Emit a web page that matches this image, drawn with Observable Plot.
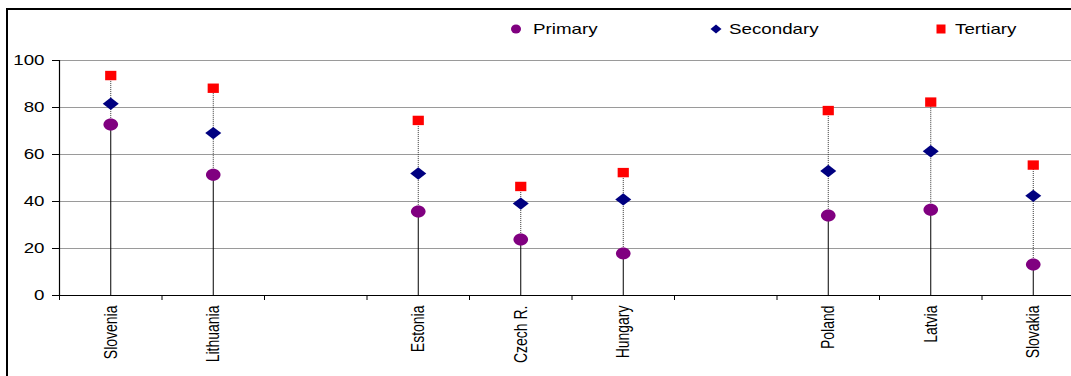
<!DOCTYPE html>
<html>
<head>
<meta charset="utf-8">
<script src="https://cdn.jsdelivr.net/npm/d3@7"></script>
<script src="https://cdn.jsdelivr.net/npm/@observablehq/plot@0.6"></script>
<style>
  html, body { margin: 0; padding: 0; background: #fff; }
  #wrap { position: relative; width: 1071px; height: 376px; overflow: hidden; font-family: "Liberation Sans", Arial, sans-serif; }
  #frame { position: absolute; left: 6px; top: 8px; width: 1200px; height: 500px; border-left: 2px solid #000; border-top: 2px solid #000; pointer-events: none; }
  #chart { position: absolute; left: 0; top: 0; }
  .key { position: absolute; top: 20px; height: 18px; font-size: 15px; color: #000; }
  .key svg { position: absolute; top: 0; }
  .key span { position: absolute; top: 0; white-space: nowrap; transform: scaleX(1.25); transform-origin: left center; line-height: 18px; }
</style>
</head>
<body>
<div id="wrap">
  <div id="chart"></div>
  <div id="frame"></div>
</div>
<script>
// Country slots along the x axis; empty strings leave a gap between groups
const countries = ["Slovenia", "Lithuania", "", "Estonia", "Czech R.", "Hungary", "", "Poland", "Latvia", "Slovakia"];

// Share by education level (%)
const primary   = [72.8, 51.4, null, 35.7, 23.8, 17.9, null, 34.0, 36.5, 13.2];
const secondary = [81.6, 69.1, null, 51.9, 39.1, 40.9, null, 53.0, 61.4, 42.4];
const tertiary  = [93.6, 88.2, null, 74.5, 46.4, 52.3, null, 78.7, 82.3, 55.5];

const seriesNames = ["Primary", "Secondary", "Tertiary"];
const seriesColors = ["#800080", "#000080", "#ff0000"];

const yTicks = [0, 20, 40, 60, 80, 100];

const rows = countries
  .map((name, i) => ({name, i, primary: primary[i], secondary: secondary[i], tertiary: tertiary[i]}))
  .filter(d => d.name !== "");

const slotCenter = d => d.i + 0.5;

// Marker shapes drawn through d3 path contexts
const k = 0.5523;
const ellipseSymbol = (rx, ry) => ({
  draw(ctx) {
    ctx.moveTo(rx, 0);
    ctx.bezierCurveTo(rx, ry * k, rx * k, ry, 0, ry);
    ctx.bezierCurveTo(-rx * k, ry, -rx, ry * k, -rx, 0);
    ctx.bezierCurveTo(-rx, -ry * k, -rx * k, -ry, 0, -ry);
    ctx.bezierCurveTo(rx * k, -ry, rx, -ry * k, rx, 0);
    ctx.closePath();
  }
});
const diamondSymbol = (hw, hh) => ({
  draw(ctx) {
    ctx.moveTo(0, -hh); ctx.lineTo(hw, 0); ctx.lineTo(0, hh); ctx.lineTo(-hw, 0); ctx.closePath();
  }
});
const rectSymbol = (hw, hh) => ({
  draw(ctx) {
    ctx.moveTo(-hw, -hh); ctx.lineTo(hw, -hh); ctx.lineTo(hw, hh); ctx.lineTo(-hw, hh); ctx.closePath();
  }
});

const chart = Plot.plot({
  width: 1071,
  height: 376,
  marginLeft: 59,
  marginRight: 0,
  marginTop: 60,
  marginBottom: 81,
  style: {fontFamily: "'Liberation Sans', Arial, sans-serif", fontSize: "14px", color: "#000", background: "transparent"},
  x: {type: "linear", domain: [0, countries.length], range: [59, 59 + countries.length * 102.5],
      ticks: d3.range(countries.length + 1), tickSize: 5, tickFormat: () => "", label: null},
  y: {domain: [0, 100], ticks: yTicks, tickSize: 7, tickFormat: () => "", label: null},
  marks: [
    Plot.ruleY(yTicks.filter(v => v > 0), {stroke: "#9a9a9a", strokeWidth: 1}),
    Plot.ruleY([0], {stroke: "#000", strokeWidth: 1.2}),
    Plot.ruleX([0], {y1: 0, y2: 100, stroke: "#000", strokeWidth: 1.2}),
    // solid stem up to the primary value, dotted span to the tertiary value
    Plot.ruleX(rows, {x: slotCenter, y1: 0, y2: "primary", stroke: "#000", strokeWidth: 1}),
    Plot.ruleX(rows, {x: slotCenter, y1: "primary", y2: "tertiary", stroke: "#333", strokeWidth: 1, strokeDasharray: "1,1"}),
    Plot.dot(rows, {x: slotCenter, y: "primary", symbol: ellipseSymbol(7.3, 6), fill: seriesColors[0], stroke: null, r: 6}),
    Plot.dot(rows, {x: slotCenter, y: "secondary", symbol: diamondSymbol(8, 6.2), fill: seriesColors[1], stroke: null, r: 6}),
    Plot.dot(rows, {x: slotCenter, y: "tertiary", symbol: rectSymbol(5.6, 4.7), fill: seriesColors[2], stroke: null, r: 6}),
    Plot.text(yTicks, {x: 0, y: d => d, text: d => String(d), textAnchor: "end", dx: -15, fontSize: 15, fill: "#000"}),
    Plot.text(rows, {x: slotCenter, y: 0, text: "name", rotate: -90, textAnchor: "end", dy: 10, fontSize: 14, fill: "#000"})
  ]
});

document.getElementById("chart").appendChild(chart);

// Widen the label glyphs horizontally (on screen)
function stretch(group, sx, sy) {
  if (!group) return;
  group.querySelectorAll("text").forEach(t => {
    const ax = t.getAttribute("x"), ay = t.getAttribute("y");
    const x = ax != null && !isNaN(+ax) ? +ax : 0;
    const y = ay != null && !isNaN(+ay) ? +ay : 0;
    if (ax != null && !isNaN(+ax)) t.removeAttribute("x");
    if (ay != null && !isNaN(+ay)) t.removeAttribute("y");
    const tr = t.getAttribute("transform") || "";
    t.setAttribute("transform", `${tr} translate(${x},${y}) scale(${sx},${sy})`);
  });
}
const textGroups = chart.querySelectorAll('g[aria-label="text"]');
stretch(textGroups[0], 1.25, 1);
stretch(textGroups[1], 1, 1.3);

// Legend row above the plot
const legendX = [{c: 516, t: 533}, {c: 716, t: 729}, {c: 941, t: 955}];
const legendShapes = [
  '<ellipse cx="6" cy="9" rx="5" ry="4.5"/>',
  '<polygon points="6,4.5 11.5,9 6,13.5 0.5,9"/>',
  '<rect x="1.5" y="4.5" width="9" height="9"/>'
];
const wrap = document.getElementById("wrap");
seriesNames.forEach((name, i) => {
  const key = document.createElement("div");
  key.className = "key";
  key.style.left = (legendX[i].c - 6) + "px";
  key.innerHTML = `<svg width="12" height="18" fill="${seriesColors[i]}">${legendShapes[i]}</svg>` +
    `<span style="left:${legendX[i].t - legendX[i].c + 6}px">${name}</span>`;
  wrap.appendChild(key);
});
</script>
</body>
</html>
